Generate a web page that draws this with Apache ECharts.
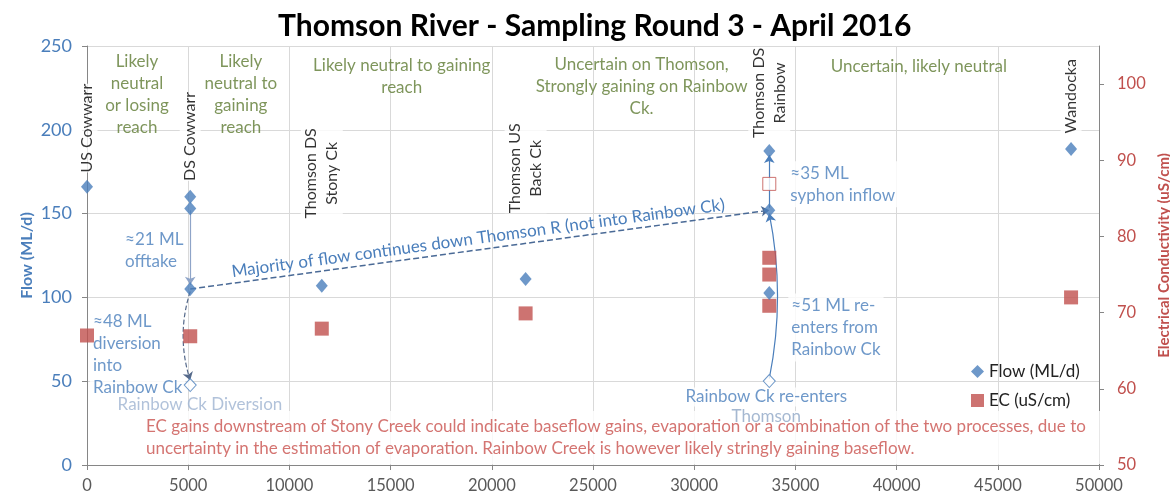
<!DOCTYPE html>
<html>
<head>
<meta charset="utf-8">
<script src="https://cdn.jsdelivr.net/npm/echarts@6/dist/echarts.min.js"></script>
<style>
html, body { margin: 0; padding: 0; background: #fff; }
#chart { width: 1170px; height: 495px; }
</style>
</head>
<body>
<div id="chart"></div>
<script>
// distance downstream (m) against flow (ML/d) and EC (uS/cm)
const flowPoints = [[0, 166], [5100, 160], [5100, 153], [5100, 105], [11600, 107], [21670, 111],
    [33710, 187.4], [33710, 152], [33710, 102.6], [48620, 188.5]];
const flowHollow = [[5100, 47.7], [33710, 50.1]];
const ecPoints = [[0, 67], [5100, 66.9], [11600, 67.9], [21670, 69.9],
    [33710, 77.2], [33710, 75], [33710, 70.9], [48620, 72]];
const ecHollow = [[33710, 86.9]];

const xTicks = { min: 0, max: 50000, interval: 5000 };
const flowTicks = { min: 0, max: 250, interval: 50 };
const ecTicks = { min: 50, max: 105, interval: 10 };

// site labels (vertical text) and annotations, placed in data units
const siteNames = ['US Cowwarr', 'DS Cowwarr', 'Thomson DS\nStony Ck', 'Thomson US\nBack Ck', 'Thomson DS\nRainbow', 'Wandocka'];
const siteLabelAt = [[0, 201], [5100, 196], [11600, 174], [21670, 177], [33710, 222], [48620, 220]];

const reachNotes = ['Likely\nneutral\nor losing\nreach', 'Likely\nneutral to\ngaining\nreach',
    'Likely neutral to gaining\nreach', 'Uncertain on Thomson,\nStrongly gaining on Rainbow\nCk.', 'Uncertain, likely neutral'];
const reachNoteAt = [[2470, 221], [7600, 221], [15550, 232], [27400, 226], [41100, 238]];

const flowNotes = ['≈21 ML\nofftake', '≈48 ML\ndiversion\ninto\nRainbow Ck', '≈35 ML\nsyphon inflow', '≈51 ML re-\nenters from\nRainbow Ck'];
const flowNoteAt = [[1730, 128], [150, 66], [34600, 167.5], [34650, 82]];
const centreNotes = ['Rainbow Ck re-enters'];
const centreNoteAt = [[33560, 40.6]];
const fadedNotes = ['Rainbow Ck Diversion'];
const fadedNoteAt = [[5580, 35.8]];
const fadedTopNotes = ['Thomson'];
const fadedTopNoteAt = [[33560, 29]];
const ecNote = 'EC gains downstream of Stony Creek could indicate baseflow gains, evaporation or a combination of the two processes, due to\n' +
    'uncertainty in the estimation of evaporation. Rainbow Creek is however likely stringly gaining baseflow.';
const ecNoteAt = [2024, 16.4];

const arrowFrom = [[5100, 152], [5100, 103.5], [5100, 105], [33710, 153.5], [33710, 51.5]];
const arrowTo = [[5100, 107.5], [5100, 50.5], [33710, 152], [33710, 185], [33710, 150]];
const arrowCurve = [0, -0.16, 0, 0, -0.1];
const arrowDashed = [false, true, true, false, false];
const arrowColor = ['#8EA4C8', '#55698A', '#4A6A96', '#4A7EBB', '#4A7EBB'];
const majorityText = 'Majority of flow continues down Thomson R (not into Rainbow Ck)';

const font = 'Lato, sans-serif';
const blue = '#4A7EBB';
const red = '#C0504D';
const green = '#5E7A32';

function noteSeries(texts, at, label, z) {
    return {
        type: 'scatter', symbolSize: 0, silent: true, z: z, animation: false,
        yAxisIndex: 0,
        data: texts.map((t, i) => ({ value: at[i], label: { formatter: t } })),
        label: Object.assign({ show: true, fontFamily: font }, label)
    };
}

const arrowData = arrowFrom.map((p, i) => ({
    coords: [p, arrowTo[i]],
    lineStyle: {
        color: arrowColor[i], width: i === 2 ? 1.5 : 1.2, opacity: 1,
        type: arrowDashed[i] ? 'dashed' : 'solid', curveness: arrowCurve[i]
    },
    label: i === 2
        ? { show: true, formatter: majorityText, position: 'middle', color: blue, fontSize: 17, fontFamily: font, distance: 3 }
        : { show: false }
}));

const chart = echarts.init(document.getElementById('chart'));

chart.setOption({
    animation: false,
    textStyle: { fontFamily: font },
    title: {
        text: 'Thomson River - Sampling Round 3 - April 2016',
        left: 273, top: 6,
        textStyle: { fontSize: 30, fontWeight: 'bold', color: '#000', fontFamily: font }
    },
    legend: {
        orient: 'vertical', left: 966, top: 358, itemGap: 12,
        itemWidth: 13, itemHeight: 13,
        textStyle: { fontSize: 17, color: '#222', fontFamily: font },
        data: [{ name: 'Flow (ML/d)', icon: 'diamond' }, { name: 'EC (uS/cm)', icon: 'rect' }]
    },
    grid: { left: 87, right: 71, top: 46, bottom: 30, outerBoundsMode: 'none' },
    xAxis: {
        type: 'value', min: xTicks.min, max: xTicks.max, interval: xTicks.interval,
        axisLine: { lineStyle: { color: '#868686' } },
        axisTick: { show: true, length: 5, lineStyle: { color: '#868686' } },
        axisLabel: { color: '#595959', fontSize: 16.5, margin: 12, formatter: v => String(v) },
        splitLine: { show: true, lineStyle: { color: '#D9D9D9' } }
    },
    yAxis: [
        {
            type: 'value', min: flowTicks.min, max: flowTicks.max, interval: flowTicks.interval,
            name: 'Flow (ML/d)', nameLocation: 'middle', nameGap: 52, nameMoveOverlap: false,
            nameTextStyle: { color: blue, fontWeight: 'bold', fontSize: 16 },
            axisLine: { show: true, lineStyle: { color: '#868686' } },
            axisTick: { show: true, length: 5, lineStyle: { color: '#868686' } },
            axisLabel: { color: blue, fontSize: 18, margin: 15 },
            splitLine: { show: true, lineStyle: { color: '#D9D9D9' } }
        },
        {
            type: 'value', position: 'right', min: ecTicks.min, max: ecTicks.max, interval: ecTicks.interval,
            name: 'Electrical Conductivity (uS/cm)', nameLocation: 'middle', nameGap: 58,
            nameTextStyle: { color: red, fontWeight: 'bold', fontSize: 15 },
            axisLine: { show: true, lineStyle: { color: '#868686' } },
            axisTick: { show: true, length: 5, lineStyle: { color: '#868686' } },
            axisLabel: { color: red, fontSize: 16.5, margin: 18, showMaxLabel: false },
            splitLine: { show: false }
        }
    ],
    series: [
        noteSeries(reachNotes, reachNoteAt, { position: 'inside', color: green, fontSize: 17, lineHeight: 22, align: 'center' }, 1),
        noteSeries(flowNotes, flowNoteAt, { position: 'right', distance: 0, color: blue, fontSize: 17, lineHeight: 22, backgroundColor: '#fff', padding: [1, 3] }, 2),
        noteSeries(centreNotes, centreNoteAt, { position: 'inside', color: blue, fontSize: 17, backgroundColor: '#fff', padding: [1, 3] }, 2),
        noteSeries([ecNote], [ecNoteAt], { position: 'right', distance: 0, color: '#C9514E', fontSize: 17, lineHeight: 22, backgroundColor: '#fff', padding: [9, 20, 0, 18] }, 3),
        noteSeries(fadedNotes, fadedNoteAt, { position: 'inside', color: '#9DB3D1', fontSize: 17 }, 2),
        noteSeries(fadedTopNotes, fadedTopNoteAt, { position: 'inside', color: '#8FA6C6', fontSize: 17 }, 4),
        noteSeries(siteNames, siteLabelAt, { position: 'inside', color: '#000', fontSize: 16, lineHeight: 21, rotate: 90, align: 'center', backgroundColor: '#fff' }, 2),
        {
            type: 'lines', coordinateSystem: 'cartesian2d', xAxisIndex: 0, yAxisIndex: 0,
            z: 4, silent: true, symbol: ['none', 'arrow'], symbolSize: 8,
            data: arrowData
        },
        {
            name: 'Flow hollow', type: 'scatter', yAxisIndex: 0, z: 5, silent: true,
            symbol: 'diamond', symbolSize: [12, 13],
            itemStyle: { color: '#fff', borderColor: blue, borderWidth: 1 },
            data: flowHollow
        },
        {
            name: 'EC hollow', type: 'scatter', yAxisIndex: 1, z: 5, silent: true,
            symbol: 'rect', symbolSize: 13,
            itemStyle: { color: '#fff', borderColor: red, borderWidth: 1 },
            data: ecHollow
        },
        {
            name: 'EC (uS/cm)', type: 'scatter', yAxisIndex: 1, z: 6, silent: true,
            symbol: 'rect', symbolSize: 14,
            itemStyle: { color: red },
            data: ecPoints
        },
        {
            name: 'Flow (ML/d)', type: 'scatter', yAxisIndex: 0, z: 7, silent: true,
            symbol: 'diamond', symbolSize: [12, 14],
            itemStyle: { color: blue },
            data: flowPoints
        }
    ]
});
</script>
</body>
</html>
